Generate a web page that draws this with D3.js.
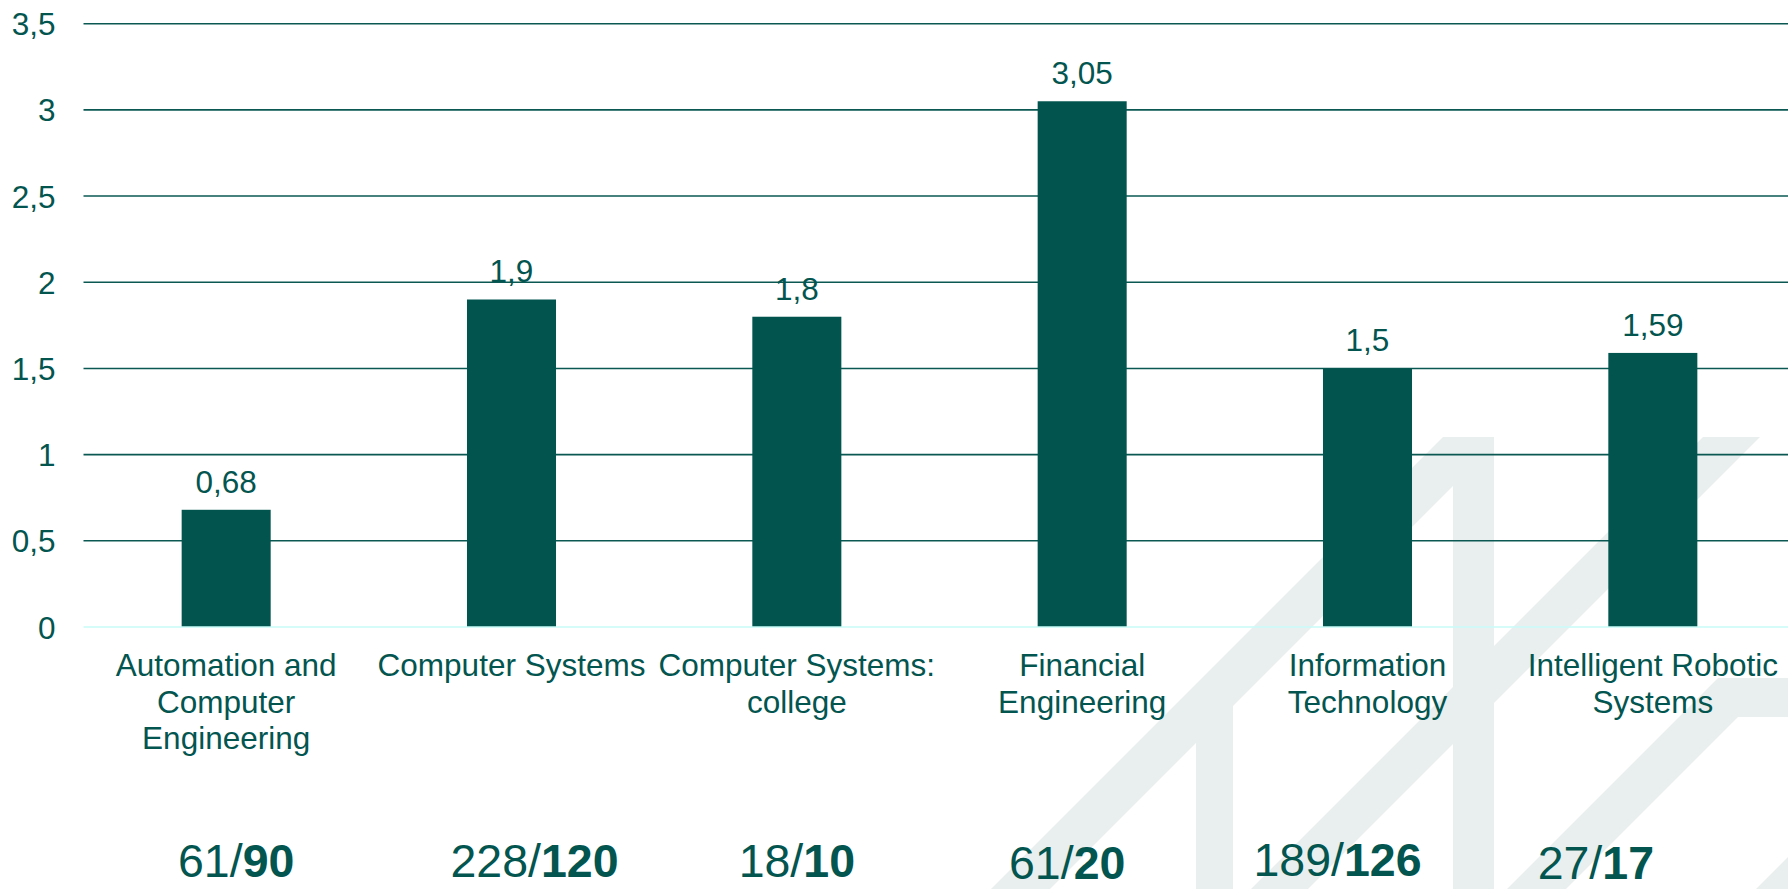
<!DOCTYPE html>
<html>
<head>
<meta charset="utf-8">
<script src="https://cdn.jsdelivr.net/npm/d3@7"></script>
<style>
  html, body { margin: 0; padding: 0; background: #ffffff; }
  svg { display: block; }
  text { font-family: "Liberation Sans", Arial, sans-serif; }
</style>
</head>
<body>
<svg id="chart" width="1788" height="889"></svg>
<script>
// ---- data ----
const categories = [
  "Automation and Computer Engineering",
  "Computer Systems",
  "Computer Systems: college",
  "Financial Engineering",
  "Information Technology",
  "Intelligent Robotic Systems"
];
const values = [0.68, 1.9, 1.8, 3.05, 1.5, 1.59];
const yTicks = [0, 0.5, 1, 1.5, 2, 2.5, 3, 3.5];
const countsFirst = ["61", "228", "18", "61", "189", "27"];
const countsSecond = ["90", "120", "10", "20", "126", "17"];

// ---- layout ----
const W = 1788, H = 889;
const colorDark = "#03554f";
const annotDx = [10, 23, 0, -15, -30, -57];
const annotY = [877, 877, 877, 878.5, 876, 878.5];

const svg = d3.select("#chart");

const x = d3.scaleBand()
  .domain(categories)
  .range([83.5, 1795.5])
  .paddingInner(0.688)
  .paddingOuter(0.344);

const y = d3.scaleLinear()
  .domain([0, 3.5])
  .range([627, 23.7]);

const fmt = v => String(v).replace(".", ",");

// ---- watermark (background decoration) ----
const wm = svg.append("g").attr("fill", "#e9efee");
const wmShapes = [
  [[1443,437],[1494,437],[1494,889],[1453,889],[1453,486],[1233,706],[1233,889],[1196,889],[1196,743],[1050,889],[991,889]],
  [[1703,437],[1760,437],[1308,889],[1251,889]],
  [[1718,678],[1800,678],[1800,717],[1738,717],[1566,889],[1507,889]],
  [[1756,889],[1788,857],[1788,889]]
];
wm.selectAll("polygon").data(wmShapes).join("polygon")
  .attr("points", d => d.map(p => p.join(",")).join(" "));

// ---- gridlines ----
svg.append("g")
  .selectAll("line")
  .data(yTicks.filter(t => t > 0))
  .join("line")
  .attr("x1", 83.5).attr("x2", W)
  .attr("y1", d => y(d)).attr("y2", d => y(d))
  .attr("stroke", "#0b5853")
  .attr("stroke-width", 1.6);

// ---- y axis labels ----
const yAxis = d3.axisLeft(y).tickValues(yTicks).tickSize(0).tickPadding(0)
  .tickFormat(d => fmt(d));
const yG = svg.append("g").attr("transform", "translate(55.5,0)").call(yAxis);
yG.select(".domain").remove();
yG.selectAll("text")
  .attr("font-size", "31.5px")
  .attr("font-family", "'Liberation Sans', Arial, sans-serif")
  .attr("fill", colorDark)
  .attr("x", 0)
  .attr("dy", "0.35em");

// ---- bars ----
svg.append("g")
  .selectAll("rect")
  .data(values)
  .join("rect")
  .attr("x", (d, i) => x(categories[i]))
  .attr("width", x.bandwidth())
  .attr("y", d => y(d))
  .attr("height", d => y(0) - y(d))
  .attr("fill", "#02554f");

// ---- zero line ----
svg.append("line")
  .attr("x1", 83.5).attr("x2", W)
  .attr("y1", y(0)).attr("y2", y(0))
  .attr("stroke", "#c8fbf8")
  .attr("stroke-width", 1.6);

// ---- value labels ----
svg.append("g")
  .selectAll("text")
  .data(values)
  .join("text")
  .attr("x", (d, i) => x(categories[i]) + x.bandwidth() / 2)
  .attr("y", d => y(d) - 17)
  .attr("text-anchor", "middle")
  .attr("font-size", "31.5px")
  .attr("fill", colorDark)
  .text(d => fmt(d));

// ---- category labels (wrapped) ----
const xAxis = d3.axisBottom(x).tickSize(0).tickPadding(0);
const xG = svg.append("g").attr("transform", `translate(0,${y(0)})`).call(xAxis);
xG.select(".domain").remove();
xG.selectAll("text")
  .attr("font-size", "31.5px")
  .attr("font-family", "'Liberation Sans', Arial, sans-serif")
  .attr("fill", colorDark)
  .attr("dy", null)
  .attr("y", 49)
  .each(function(label) {
    const t = d3.select(this);
    const words = label.split(/\s+/);
    t.text(null);
    const maxW = 290;
    let line = [];
    let lineNo = 0;
    let tspan = t.append("tspan").attr("x", 0).attr("y", 49);
    words.forEach(w => {
      line.push(w);
      tspan.text(line.join(" "));
      if (tspan.node().getComputedTextLength() > maxW && line.length > 1) {
        line.pop();
        tspan.text(line.join(" "));
        line = [w];
        lineNo++;
        tspan = t.append("tspan").attr("x", 0).attr("y", 49 + lineNo * 36.5).text(w);
      }
    });
  });

// ---- bottom count annotations ----
const ann = svg.append("g");
categories.forEach((c, i) => {
  const t = ann.append("text")
    .attr("x", x(c) + x.bandwidth() / 2 + annotDx[i])
    .attr("y", annotY[i])
    .attr("text-anchor", "middle")
    .attr("font-size", "46.5px")
    .attr("fill", colorDark);
  t.append("tspan").text(countsFirst[i] + "/");
  t.append("tspan").attr("font-weight", "bold").text(countsSecond[i]);
});
</script>
</body>
</html>
